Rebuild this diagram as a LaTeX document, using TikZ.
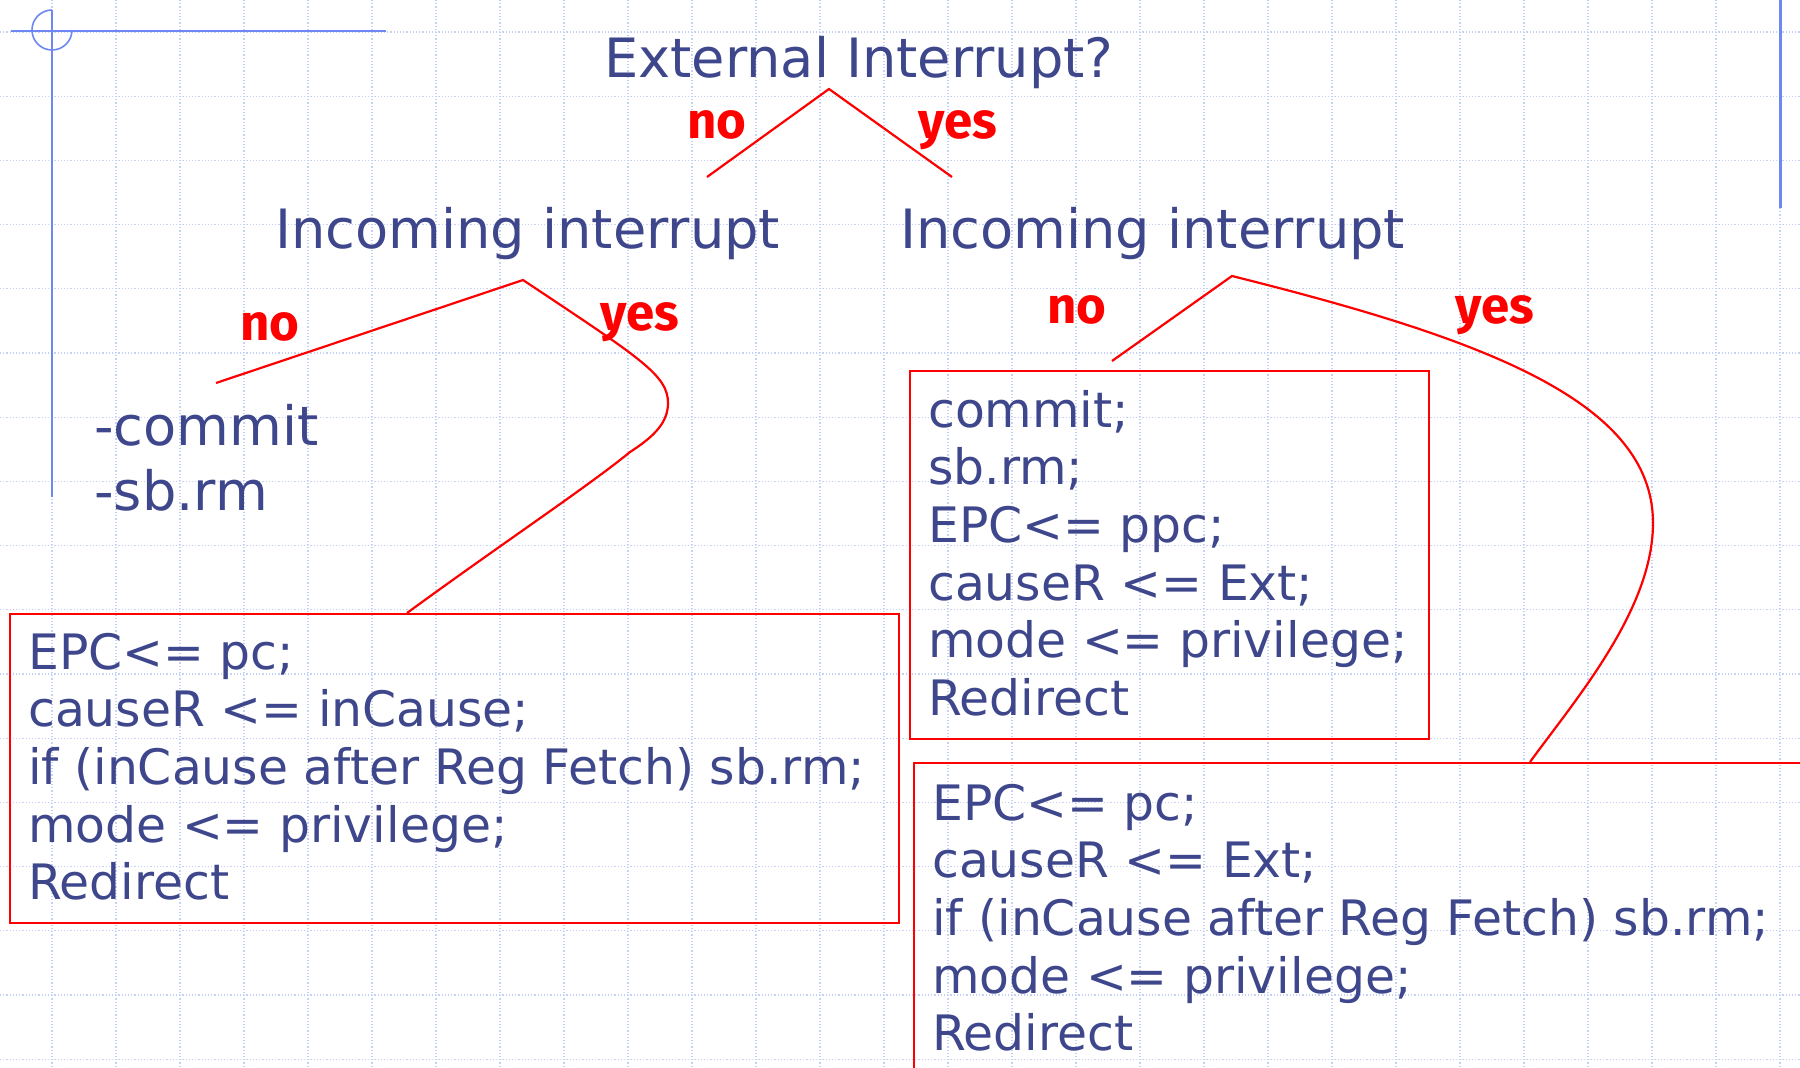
\documentclass[tikz,border=0pt]{standalone}
\usepackage{fontspec}
\setmainfont{DejaVu Sans}
\newfontfamily\labfont{Fira Sans}
\usetikzlibrary{calc}
\definecolor{txtblue}{RGB}{62,70,140}
\definecolor{deco}{RGB}{111,135,242}
\definecolor{gridc}{RGB}{196,208,246}
\definecolor{redc}{RGB}{255,0,0}
\begin{document}
\begin{tikzpicture}[x=1pt,y=-1pt,
  big/.style={font=\fontsize{54.2}{65}\selectfont, text=txtblue, inner sep=0pt, anchor=base west},
  code/.style={font=\fontsize{48.8}{57.7}\selectfont, text=txtblue, inner sep=0pt, anchor=base west},
  lab/.style={font=\labfont\bfseries\fontsize{51}{60}\selectfont, text=redc, inner sep=0pt, anchor=base west},
  wire/.style={draw=redc, line width=2.2pt},
  redbox/.style={draw=redc, line width=2.2pt, rectangle, inner sep=0pt, anchor=north west},
  gridline/.style={draw=gridc, line width=1.3pt, dash pattern=on 1.2pt off 2pt}]
\useasboundingbox (0,0) rectangle (1800,1068);
\clip (0,0) rectangle (1800,1068);
\fill[white] (0,0) rectangle (1800,1068);
% grid
\foreach \i in {0,...,27} \draw[gridline] ({52+64*\i},0) -- ({52+64*\i},1068);
\foreach \j in {0,...,16} \draw[gridline] (0,{32+64.2*\j}) -- (1800,{32+64.2*\j});
% slide decoration
\draw[deco, line width=2.5pt] (11,31) -- (386,31);
\draw[deco, line width=2.7pt] (52,10) -- (52,497);
\draw[deco, line width=1.6pt] (52,10) arc[start angle=90, end angle=360, radius=20pt];
\draw[deco, line width=3pt] (1780,0) -- (1780,208);
% headings
\node[big] (ext) at (604,77) {External Interrupt?};
\node[big] (inl) at (275,248) {Incoming interrupt};
\node[big] (inr) at (900,248) {Incoming interrupt};
\node[big] (cm) at (94,445) {-commit};
\node[big] (sb) at (94,510) {-sb.rm};
% boxes
\node[redbox, minimum width=889pt, minimum height=309pt] (lbox) at (9,613) {};
\node[redbox, minimum width=519pt, minimum height=368pt] (rbox) at (909,370) {};
\node[redbox, minimum width=1000pt, minimum height=400pt] (brbox) at (913,762) {};
\node[code] (lboxt) at (28,669) {\begin{tabular}[t]{@{}l@{}}EPC<= pc;\\causeR <= inCause;\\if (inCause after Reg Fetch) sb.rm;\\mode <= privilege;\\Redirect\end{tabular}};
\node[code] (rboxt) at (928,427) {\begin{tabular}[t]{@{}l@{}}commit;\\sb.rm;\\EPC<= ppc;\\causeR <= Ext;\\mode <= privilege;\\Redirect\end{tabular}};
\node[code] (brboxt) at (932,820) {\begin{tabular}[t]{@{}l@{}}EPC<= pc;\\causeR <= Ext;\\if (inCause after Reg Fetch) sb.rm;\\mode <= privilege;\\Redirect\end{tabular}};
% labels
\node[lab] (l0n) at (687,138) {no};
\node[lab] (l0y) at (918,138) {yes};
\node[lab] (l1n) at (240,340) {no};
\node[lab] (l1y) at (600,330) {yes};
\node[lab] (l2n) at (1047,323) {no};
\node[lab] (l2y) at (1455,323) {yes};
% connectors
\coordinate (a0) at (829,89);
\coordinate (a0l) at (707,177);
\coordinate (a0r) at (952,177);
\draw[wire] (a0l) -- (a0) -- (a0r);
\coordinate (a1) at (523,280);
\coordinate (a1l) at (216,383);
\draw[wire] (a1l) -- (a1) .. controls (640,358) and (668,375) .. (668,403)
  .. controls (668,422) and (655,436) .. (630,452)
  .. controls (590,485) and (500,545) .. ($(lbox.north west)+(398,0)$);
\coordinate (a2) at (1232,276);
\coordinate (a2l) at (1112,361);
\draw[wire] (a2l) -- (a2) .. controls (1480,338) and (1653,400) .. (1653,523)
  .. controls (1653,610) and (1575,700) .. ($(brbox.north west)+(617,0)$);
\end{tikzpicture}
\end{document}
